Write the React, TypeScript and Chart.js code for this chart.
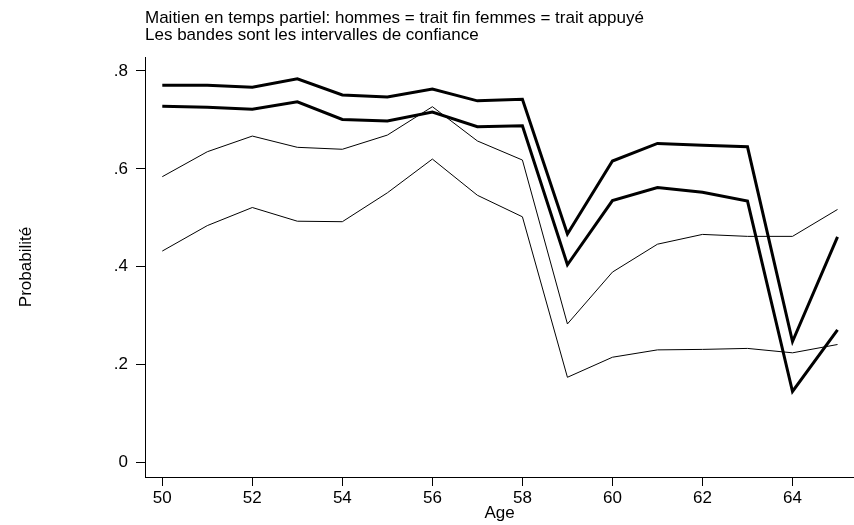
import { useEffect, useRef } from "react";
import { Chart, registerables } from "chart.js";

Chart.register(...registerables);

// Age (années)
const ages = [50, 51, 52, 53, 54, 55, 56, 57, 58, 59, 60, 61, 62, 63, 64, 65];

// Femmes : bornes de l'intervalle de confiance (trait appuyé)
const femmesHaut = [0.771, 0.771, 0.767, 0.784, 0.751, 0.747, 0.763, 0.739, 0.742, 0.467, 0.616, 0.652, 0.648, 0.645, 0.247, 0.461];
const femmesBas = [0.728, 0.726, 0.722, 0.737, 0.701, 0.698, 0.716, 0.686, 0.688, 0.404, 0.535, 0.562, 0.552, 0.534, 0.145, 0.271];

// Hommes : bornes de l'intervalle de confiance (trait fin)
const hommesHaut = [0.584, 0.635, 0.667, 0.644, 0.640, 0.669, 0.727, 0.657, 0.618, 0.283, 0.389, 0.446, 0.466, 0.462, 0.462, 0.517];
const hommesBas = [0.432, 0.484, 0.521, 0.493, 0.492, 0.551, 0.620, 0.546, 0.502, 0.174, 0.215, 0.230, 0.231, 0.233, 0.224, 0.241];

const xTickValues = [50, 52, 54, 56, 58, 60, 62, 64];
const yTickValues = [0, 0.2, 0.4, 0.6, 0.8];
const yTickLabels = ["0", ".2", ".4", ".6", ".8"];

const titleLines = [
  "Maitien en temps partiel: hommes = trait fin femmes = trait appuyé",
  "Les bandes sont les intervalles de confiance",
];
const xTitle = "Age";
const yTitle = "Probabilité";

const FONT = '"Liberation Sans", Arial, Helvetica, sans-serif';
const FONT_SIZE = 17;

const toPoints = (vals: number[]) => ages.map((a, i) => ({ x: a, y: vals[i] }));

// Titre et intitulés des axes
const textPlugin = {
  id: "textes",
  afterDraw(chart: any) {
    const { ctx, chartArea } = chart;
    ctx.save();
    ctx.fillStyle = "#000";
    ctx.font = `${FONT_SIZE}px ${FONT}`;
    ctx.textAlign = "left";
    ctx.textBaseline = "alphabetic";
    titleLines.forEach((line, i) => {
      ctx.fillText(line, chartArea.left, 23 + i * 17);
    });
    ctx.textAlign = "center";
    ctx.textBaseline = "middle";
    ctx.fillText(xTitle, (chartArea.left + chartArea.right) / 2, 513);
    ctx.translate(26.5, (chartArea.top + chartArea.bottom) / 2);
    ctx.rotate(-Math.PI / 2);
    ctx.fillText(yTitle, 0, 0);
    ctx.restore();
  },
};

export default function App() {
  const canvasRef = useRef<HTMLCanvasElement | null>(null);

  useEffect(() => {
    if (!canvasRef.current) return;
    const thick = { borderColor: "#000", borderWidth: 3, borderJoinStyle: "miter" as const, pointRadius: 0, fill: false, tension: 0 };
    const thin = { borderColor: "#000", borderWidth: 1, borderJoinStyle: "miter" as const, pointRadius: 0, fill: false, tension: 0 };

    const chart = new Chart(canvasRef.current, {
      type: "line",
      data: {
        datasets: [
          { label: "Femmes haut", data: toPoints(femmesHaut), ...thick },
          { label: "Femmes bas", data: toPoints(femmesBas), ...thick },
          { label: "Hommes haut", data: toPoints(hommesHaut), ...thin },
          { label: "Hommes bas", data: toPoints(hommesBas), ...thin },
        ],
      },
      options: {
        responsive: false,
        animation: false,
        devicePixelRatio: 1,
        layout: { padding: { top: 57, left: 0, right: 0, bottom: 0 } },
        plugins: {
          legend: { display: false },
          tooltip: { enabled: false },
          title: { display: false },
        },
        scales: {
          x: {
            type: "linear",
            min: 49.616,
            max: 65.366,
            afterBuildTicks: (s: any) => {
              s.ticks = xTickValues.map((v) => ({ value: v }));
            },
            afterFit: (s: any) => {
              s.height = 48;
            },
            grid: { display: true, drawOnChartArea: false, drawTicks: true, tickLength: 9, color: "#000", lineWidth: 1 },
            border: { display: true, color: "#000", width: 1 },
            ticks: {
              color: "#000",
              font: { family: FONT, size: FONT_SIZE },
              padding: 2,
              maxRotation: 0,
              autoSkip: false,
              callback: (v: any) => String(v),
            },
          },
          y: {
            type: "linear",
            min: -0.0298,
            max: 0.8286,
            afterBuildTicks: (s: any) => {
              s.ticks = yTickValues.map((v) => ({ value: v }));
            },
            afterFit: (s: any) => {
              s.width = 145;
            },
            grid: { display: true, drawOnChartArea: false, drawTicks: true, tickLength: 9, color: "#000", lineWidth: 1 },
            border: { display: true, color: "#000", width: 1 },
            ticks: {
              color: "#000",
              font: { family: FONT, size: FONT_SIZE },
              padding: 8,
              autoSkip: false,
              callback: (_v: any, i: number) => yTickLabels[i],
            },
          },
        },
      },
      plugins: [textPlugin],
    });
    return () => chart.destroy();
  }, []);

  return (
    <div style={{ position: "fixed", left: 0, top: 0, width: 854, height: 525, background: "#fff" }}>
      <canvas ref={canvasRef} width={854} height={525} style={{ display: "block", width: 854, height: 525 }} />
    </div>
  );
}
